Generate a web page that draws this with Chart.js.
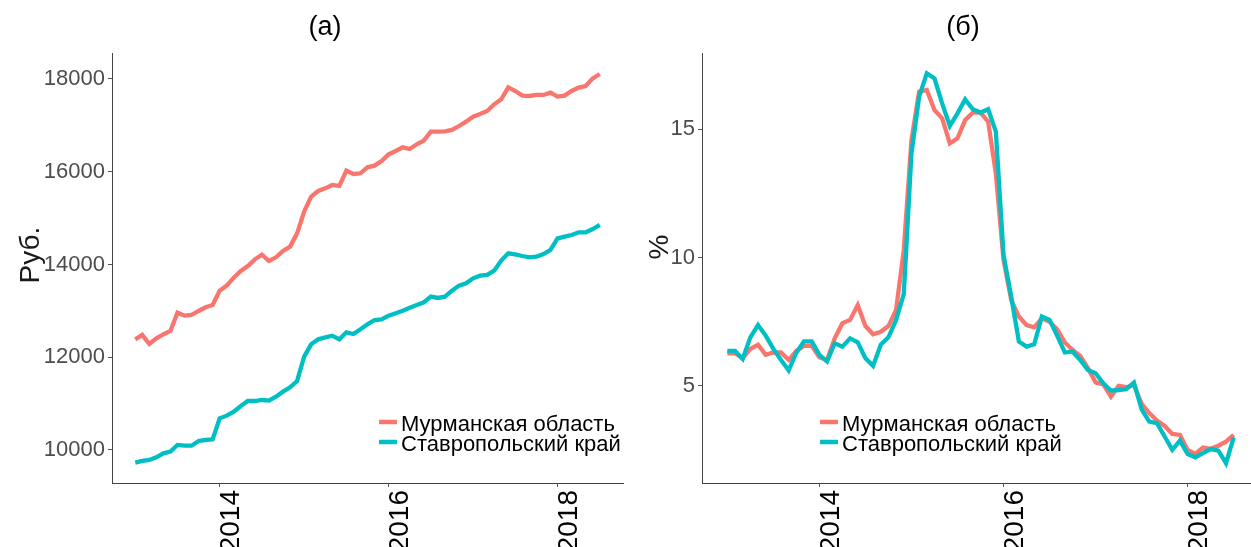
<!DOCTYPE html>
<html lang="ru">
<head>
<meta charset="utf-8">
<title>Зарплата и инфляция: Мурманская область и Ставропольский край</title>
<script src="https://cdn.jsdelivr.net/npm/chart.js@4.4.1/dist/chart.umd.min.js"></script>
<style>
  html, body { margin: 0; padding: 0; background: #fff; overflow: hidden; }
  #wrap { position: relative; width: 1251px; height: 547px; overflow: hidden; }
  canvas { position: absolute; top: 0; }
  #chart-wage { left: 0; }
  #chart-infl { left: 640px; }
</style>
</head>
<body>
<div id="wrap">
  <canvas id="chart-wage" width="640" height="547"></canvas>
  <canvas id="chart-infl" width="630" height="547"></canvas>
</div>
<script>
(function () {
  'use strict';

  // monthly observations, Jan 2013 .. Jul 2018
  var firstYear = 2013;
  var monthCount = 67;

  var seriesNames = ['Мурманская область', 'Ставропольский край'];
  var seriesColors = ['#F8766D', '#00BFC4'];

  var yearTicks = [2014, 2016, 2018];
  var wageTicks = [10000, 12000, 14000, 16000, 18000];
  var inflTicks = [5, 10, 15];

  // (а) руб.
  var wageMurmansk = [
    12386, 12480, 12286, 12408, 12494, 12566, 12961, 12897, 12911, 12997, 13076, 13126,
    13436, 13544, 13716, 13860, 13968, 14111, 14212, 14075, 14154, 14291, 14385, 14672,
    15139, 15463, 15585, 15642, 15714, 15693, 16023, 15951, 15966, 16095, 16131, 16232,
    16375, 16447, 16526, 16490, 16591, 16670, 16864, 16864, 16871, 16900, 16986, 17080,
    17188, 17245, 17310, 17454, 17562, 17820, 17741, 17641, 17633, 17655, 17655, 17705,
    17619, 17641, 17741, 17813, 17849, 18014, 18108
  ];
  var wageStavropol = [
    9727, 9763, 9784, 9842, 9928, 9964, 10108, 10093, 10093, 10194, 10215, 10230,
    10683, 10740, 10826, 10949, 11056, 11056, 11078, 11064, 11150, 11258, 11351, 11488,
    12012, 12278, 12386, 12429, 12465, 12386, 12537, 12501, 12602, 12710, 12803, 12817,
    12897, 12947, 13004, 13069, 13126, 13184, 13306, 13278, 13306, 13436, 13544, 13594,
    13702, 13759, 13774, 13867, 14083, 14241, 14219, 14183, 14154, 14169, 14226, 14313,
    14564, 14600, 14636, 14693, 14693, 14765, 14852
  ];

  // (б) %
  var inflMurmansk = [
    6.27, 6.27, 6.08, 6.44, 6.60, 6.21, 6.30, 6.30, 6.01, 6.36, 6.56, 6.56,
    6.12, 6.01, 6.85, 7.44, 7.57, 8.15, 7.33, 7.01, 7.11, 7.33, 7.96, 10.29,
    14.57, 16.45, 16.52, 15.74, 15.42, 14.44, 14.64, 15.35, 15.64, 15.64, 15.29, 13.27,
    9.90, 8.35, 7.70, 7.37, 7.28, 7.63, 7.50, 7.20, 6.69, 6.40, 6.17, 5.69,
    5.14, 5.06, 4.58, 5.00, 4.95, 5.04, 4.30, 3.94, 3.65, 3.44, 3.13, 3.09,
    2.51, 2.35, 2.60, 2.55, 2.67, 2.83, 3.09
  ];
  var inflStavropol = [
    6.36, 6.36, 6.05, 6.89, 7.37, 6.96, 6.44, 6.01, 5.60, 6.30, 6.73, 6.73,
    6.21, 5.95, 6.66, 6.53, 6.85, 6.70, 6.08, 5.78, 6.60, 6.89, 7.57, 8.57,
    14.05, 16.26, 17.17, 16.97, 16.00, 15.12, 15.61, 16.15, 15.77, 15.64, 15.77, 14.90,
    10.10, 8.48, 6.73, 6.53, 6.62, 7.70, 7.57, 6.95, 6.30, 6.34, 6.01, 5.62,
    5.49, 5.10, 4.82, 4.84, 4.87, 5.13, 4.09, 3.61, 3.55, 3.03, 2.51, 2.87,
    2.35, 2.22, 2.38, 2.54, 2.48, 1.99, 3.00
  ];

  var FONT = '"Liberation Sans", Arial, sans-serif';

  var months = [];
  for (var i = 0; i < monthCount; i++) months.push(firstYear + i / 12);

  function toPoints(values) {
    return values.map(function (v, idx) { return { x: months[idx], y: v }; });
  }

  // legend drawn inside the plot, like ggplot's legend.position = c(x, y)
  var insideLegend = {
    id: 'insideLegend',
    afterDatasetsDraw: function (chart, args, opts) {
      var ctx = chart.ctx;
      ctx.save();
      ctx.font = '22px ' + FONT;
      ctx.textAlign = 'left';
      ctx.textBaseline = 'middle';
      seriesNames.forEach(function (name, k) {
        var rowY = opts.y + k * opts.rowHeight;
        ctx.strokeStyle = seriesColors[k];
        ctx.lineWidth = 4.5;
        ctx.beginPath();
        ctx.moveTo(opts.x, rowY - 3);
        ctx.lineTo(opts.x + 18, rowY - 3);
        ctx.stroke();
        ctx.fillStyle = '#000';
        ctx.fillText(name, opts.x + 22, rowY);
      });
      ctx.restore();
    }
  };

  // panel title and y axis title
  var panelText = {
    id: 'panelText',
    afterDraw: function (chart, args, opts) {
      var ctx = chart.ctx;
      ctx.save();
      ctx.textAlign = 'center';
      ctx.textBaseline = 'middle';
      ctx.fillStyle = '#000';
      ctx.font = '27px ' + FONT;
      ctx.fillText(opts.title, opts.titleX, 28);
      ctx.translate(opts.axisX, opts.axisY);
      ctx.rotate(-Math.PI / 2);
      ctx.fillStyle = '#1a1a1a';
      ctx.font = '28px ' + FONT;
      ctx.fillText(opts.axisTitle, 0, 0);
      ctx.restore();
    }
  };

  function buildChart(canvasId, cfg) {
    var el = document.getElementById(canvasId);
    if (!el) return null;
    return new Chart(el, {
      type: 'line',
      data: {
        datasets: [{
          label: seriesNames[0],
          data: toPoints(cfg.first),
          borderColor: seriesColors[0],
          borderWidth: 4.3,
          pointRadius: 0,
          tension: 0,
          order: 2
        }, {
          label: seriesNames[1],
          data: toPoints(cfg.second),
          borderColor: seriesColors[1],
          borderWidth: 4.3,
          pointRadius: 0,
          tension: 0,
          order: 1
        }]
      },
      options: {
        responsive: false,
        animation: false,
        events: [],
        layout: { padding: { left: 0, right: cfg.padRight, top: 53, bottom: 0 } },
        plugins: {
          legend: { display: false },
          tooltip: { enabled: false },
          insideLegend: cfg.legend,
          panelText: cfg.text
        },
        scales: {
          x: {
            type: 'linear',
            min: 2012.725,
            max: 2018.775,
            afterBuildTicks: function (scale) {
              scale.ticks = yearTicks.map(function (v) { return { value: v }; });
            },
            afterFit: function (scale) { scale.height = 64; },
            grid: { drawOnChartArea: false, drawTicks: true, tickLength: 4, color: '#555' },
            border: { display: true, color: '#444', width: 1 },
            ticks: {
              autoSkip: false,
              minRotation: 90,
              maxRotation: 90,
              padding: 3,
              labelOffset: 12,
              color: '#000',
              font: { family: FONT, size: 28 },
              callback: function (v) { return String(v); }
            }
          },
          y: {
            min: cfg.yMin,
            max: cfg.yMax,
            afterBuildTicks: function (scale) {
              scale.ticks = cfg.yTicks.map(function (v) { return { value: v }; });
            },
            afterFit: function (scale) { scale.width = cfg.yWidth; },
            grid: { drawOnChartArea: false, drawTicks: true, tickLength: 4, color: '#555' },
            border: { display: true, color: '#444', width: 1 },
            ticks: {
              padding: 3,
              color: '#4d4d4d',
              font: { family: FONT, size: 22 },
              callback: function (v) { return String(v); }
            }
          }
        }
      },
      plugins: [insideLegend, panelText]
    });
  }

  function init() {
    buildChart('chart-wage', {
      first: wageMurmansk,
      second: wageStavropol,
      yMin: 9288,
      yMax: 18560,
      yTicks: wageTicks,
      yWidth: 112,
      padRight: 17,
      legend: { x: 379, y: 425, rowHeight: 20 },
      text: { title: '(а)', titleX: 325, axisTitle: 'Руб.', axisX: 31, axisY: 255 }
    });
    buildChart('chart-infl', {
      first: inflMurmansk,
      second: inflStavropol,
      yMin: 1.22,
      yMax: 17.96,
      yTicks: inflTicks,
      yWidth: 62,
      padRight: 11,
      legend: { x: 180, y: 425, rowHeight: 20 },
      text: { title: '(б)', titleX: 323, axisTitle: '%', axisX: 20, axisY: 247 }
    });
  }

  if (document.readyState === 'loading') {
    document.addEventListener('DOMContentLoaded', init);
  } else {
    init();
  }
})();
</script>
</body>
</html>
